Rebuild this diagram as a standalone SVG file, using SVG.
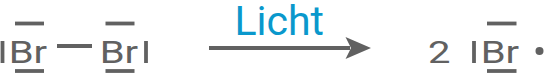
<svg xmlns="http://www.w3.org/2000/svg" width="547" height="77" viewBox="0 0 547 77">
<style>
.t{font-family:Roboto,"Liberation Sans",sans-serif;font-size:40px;fill:#616161}
.lp{stroke:#616161;stroke-width:3.8;fill:none}
.lb{font-family:Roboto,"Liberation Sans",sans-serif;font-size:41px;fill:#0a98cc}
</style>
<g id="br2">
<line class="lp" x1="2.5" y1="41" x2="2.5" y2="63"/>
<text class="t" x="8.7" y="63" transform="matrix(1 0 0 0.8 0 12.6)">Br</text>
<line class="lp" x1="15" y1="23.5" x2="44" y2="23.5"/>
<line class="lp" x1="15" y1="71" x2="44" y2="71"/>
<line class="lp" x1="57" y1="46" x2="92" y2="46"/>
<text class="t" x="99.7" y="63" transform="matrix(1 0 0 0.8 0 12.6)">Br</text>
<line class="lp" x1="105.5" y1="23.5" x2="134.5" y2="23.5"/>
<line class="lp" x1="105.5" y1="71" x2="134.5" y2="71"/>
<line class="lp" x1="146" y1="41" x2="146" y2="63"/>
</g>
<g id="connectors">
<line x1="209" y1="48" x2="350" y2="48" stroke="#616161" stroke-width="4"/>
<path d="M371,48 L345.5,37 L351,48 L345.5,59 Z" fill="#616161"/>
<text class="lb" x="234.5" y="35">Licht</text>
</g>
<g id="product">
<text class="t" x="428" y="63" transform="matrix(1 0 0 0.8 0 12.6)">2</text>
<line class="lp" x1="474" y1="41" x2="474" y2="63"/>
<text class="t" x="480.7" y="63" transform="matrix(1 0 0 0.8 0 12.6)">Br</text>
<line class="lp" x1="487" y1="23.5" x2="516.5" y2="23.5"/>
<line class="lp" x1="487" y1="71" x2="516.5" y2="71"/>
<circle cx="539.5" cy="51" r="4" fill="#616161"/>
</g>
</svg>
